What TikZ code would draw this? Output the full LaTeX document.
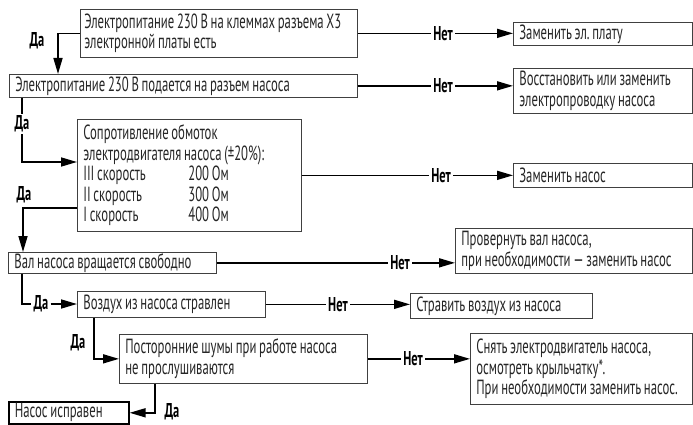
\documentclass[tikz,border=0pt]{standalone}
\usepackage{fontspec}
\setmainfont{PT Sans}[FakeStretch=0.62, WordSpace=0.8]
\frenchspacing
\usetikzlibrary{arrows.meta, calc}

\tikzset{
  blk/.style={draw=black!75, line width=0.7pt, rectangle, anchor=north west,
    align=left, inner xsep=6pt, inner ysep=0pt, text=black!85,
    font=\fontsize{20.5}{20.5}\selectfont,
    execute at begin node={\spaceskip=0pt\xspaceskip=0pt}},
  conn/.style={line width=1.6pt, black},
  arr/.style={conn, -{Triangle[length=16pt,width=9pt]}},
  lbl/.style={font=\fontsize{20}{18}\selectfont\bfseries, inner sep=2pt},
  gap/.style={lbl, fill=white},
}

\begin{document}
\begin{tikzpicture}[x=1pt,y=-1pt]
    \useasboundingbox (0,0) rectangle (693,425);
    \clip (0,0) rectangle (693,425);
    % Checks
    \node[blk, inner xsep=4pt, text width=269pt, minimum height=48pt] (b1) at (80,9)
      {Электропитание 230 В на клеммах разъема Х3\\электронной платы есть};
    \node[blk, text width=336pt, minimum height=23pt] (b2) at (9,74)
      {Электропитание 230 В подается на разъем насоса};
    \node[blk, text width=212pt, minimum height=112pt] (b3) at (77,119)
      {Сопротивление обмоток\\электродвигателя насоса (±20\%):\\
       \makebox[105pt][l]{III скорость}200 Ом\\
       \makebox[105pt][l]{II скорость}300 Ом\\
       \makebox[105pt][l]{I скорость}400 Ом};
    \node[blk, text width=196pt, minimum height=21pt] (b4) at (8,252)
      {Вал насоса вращается свободно};
    \node[blk, text width=176pt, minimum height=26pt] (b5) at (77,291)
      {Воздух из насоса стравлен};
    \node[blk, text width=236pt, minimum height=49pt] (b6) at (119,334)
      {Посторонние шумы при работе насоса\\не прослушиваются};
    \node[blk, line width=1.6pt, draw=black, text width=108pt, minimum height=22pt] (b7) at (8,401)
      {Насос исправен};
    % Remedies
    \node[blk, text width=167pt, minimum height=23pt] (r1) at (513,22)
      {Заменить эл. плату};
    \node[blk, text width=167pt, minimum height=45pt] (r2) at (513,68)
      {Восстановить или заменить\\электропроводку насоса};
    \node[blk, text width=167pt, minimum height=24pt] (r3) at (513,163)
      {Заменить насос};
    \node[blk, text width=225pt, minimum height=45pt] (r4) at (455,228)
      {Провернуть вал насоса,\\при необходимости — заменить насос};
    \node[blk, text width=170pt, minimum height=25pt] (r5) at (410,293)
      {Стравить воздух из насоса};
    \node[blk, text width=210pt, minimum height=71pt] (r6) at (470,333)
      {Снять электродвигатель насоса,\\осмотреть крыльчатку*.\\При необходимости заменить насос.};
    % "Net" branches
    \node[lbl, anchor=east] (n1) at ($(r1.west |- b1.east)+(-58,0)$) {Нет};
    \node[lbl, anchor=east] (n2) at ($(r2.west |- b2.east)+(-58,0)$) {Нет};
    \node[lbl, anchor=east] (n3) at ($(r3.west |- b3.east)+(-60,0)$) {Нет};
    \node[lbl, anchor=east] (n4) at ($(r4.west |- b4.east)+(-43,0)$) {Нет};
    \node[lbl, anchor=east] (n5) at ($(r5.west |- b5.east)+(-60,0)$) {Нет};
    \node[lbl, anchor=east] (n6) at ($(r6.west |- b6.east)+(-45,0)$) {Нет};
    \draw[conn] (b1.east) -- (n1);  \draw[arr] (n1) -- (n1 -| r1.west);
    \draw[conn] (b2.east) -- (n2);  \draw[arr] (n2) -- (n2 -| r2.west);
    \draw[conn] (b3.east) -- (n3);  \draw[arr] (n3) -- (n3 -| r3.west);
    \draw[conn] (b4.east) -- (n4);  \draw[arr] (n4) -- (n4 -| r4.west);
    \draw[conn] (b5.east) -- (n5);  \draw[arr] (n5) -- (n5 -| r5.west);
    \draw[conn] (b6.east) -- (n6);  \draw[arr] (n6) -- (n6 -| r6.west);
    % "Da" branches
    \node[lbl] (y1) at (37,41) {Да};
    \draw[arr] (b1.west) -| (b2.north -| 58,0);
    \node[lbl] (y2) at (22,124) {Да};
    \draw[conn] (b2.south -| y2) -- (y2);
    \draw[arr] (y2) |- (b3.west |- 0,162);
    \node[lbl] (y3) at (24,195) {Да};
    \draw[arr] (b3.west |- 0,208) -| (b4.north -| 23,0);
    \node[lbl] (y4) at (41,304) {Да};
    \draw[conn] (b4.south -| 22,0) |- (y4);
    \draw[arr] (y4) -- (y4 -| b5.west);
    \node[lbl] (y5) at (78,343) {Да};
    \draw[arr] (b5.south -| 94,0) |- (b6.west);
    \node[lbl] (y6) at (172,412) {Да};
    \draw[arr] (b6.south -| 155,0) |- (b7.east);
\end{tikzpicture}
\end{document}
